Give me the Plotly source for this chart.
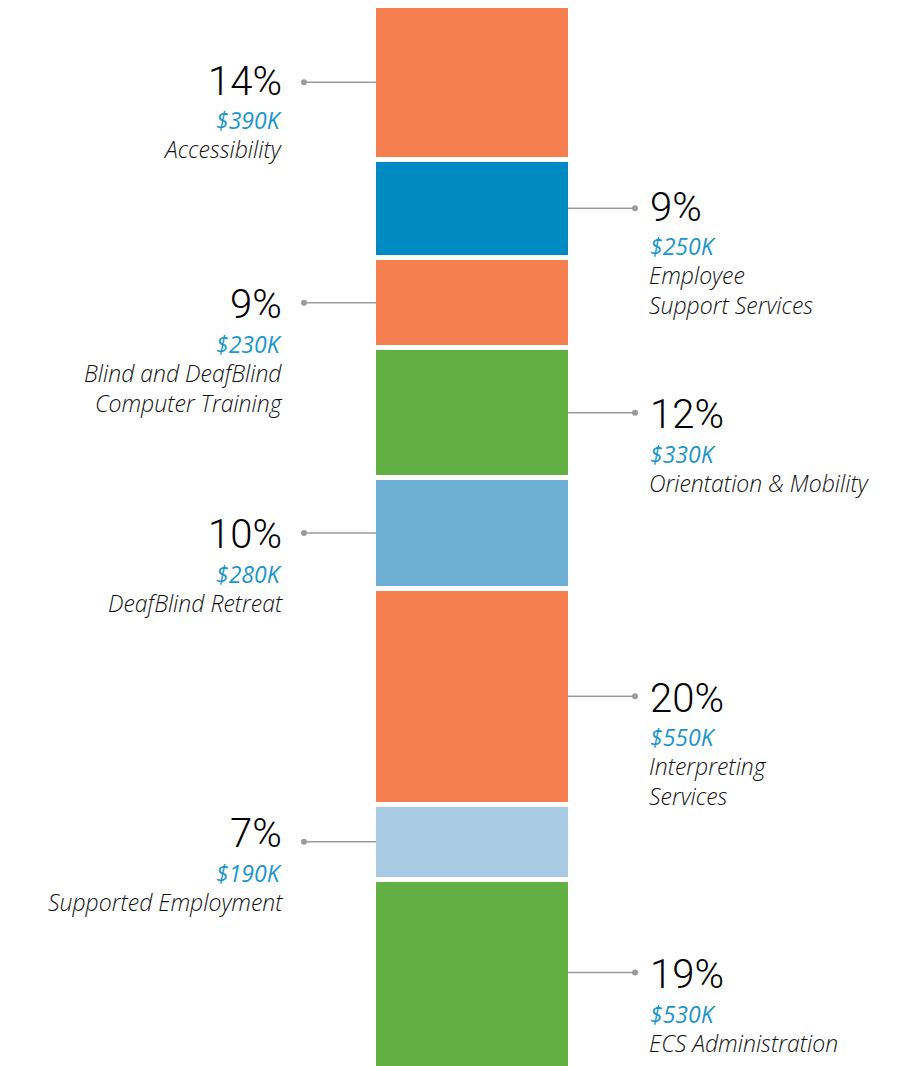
import plotly.graph_objects as go

# ---------------- data ----------------
categories = [
    "Accessibility",
    "Employee<br>Support Services",
    "Blind and DeafBlind<br>Computer Training",
    "Orientation & Mobility",
    "DeafBlind Retreat",
    "Interpreting<br>Services",
    "Supported Employment",
    "ECS Administration",
]
amounts_k = [390, 250, 230, 330, 280, 550, 190, 530]
percents = [14, 9, 9, 12, 10, 20, 7, 19]
sides = ["left", "right", "left", "right", "left", "right", "left", "right"]

# ---------------- styles / layout ----------------
colors = ["#F57F4F", "#008AC2", "#F57F4F", "#62AF43", "#6EAFD6", "#F57F4F", "#A8CBE3", "#62AF43"]
label_nudge_px = [-3, -3, 0, 0, 0, 0, -10, 0]   # design tweak of label block vs connector
PCT_FONT = "Roboto, sans-serif"
TXT_FONT = "Open Sans, Noto Sans, sans-serif"
AMT_COLOR = "#1A96CD"
LINE_COLOR = "#9B9B9B"

W, H = 881, 1058
Y_RANGE = [2694.5, 6.35]          # reversed axis, bar runs past bottom edge
X_RANGE = [-2.3553, 2.1168]

def px(sx):
    """screen x (page pixels) -> paper fraction"""
    return (sx - 8) / W

LEFT_TEXT_X = px(284)
RIGHT_TEXT_X = px(648)
LEFT_DOT_X = px(304)
RIGHT_DOT_X = px(635)
BAR_LEFT_X = px(376)
BAR_RIGHT_X = px(568)

fig = go.Figure()
for name, val, col in zip(categories, amounts_k, colors):
    fig.add_trace(go.Bar(
        x=["Budget"], y=[val], name=name.replace("<br>", " "),
        marker=dict(color=col, line=dict(color="white", width=5)),
        width=1.0, hoverinfo="skip",
    ))

shapes, annotations = [], []
start = 0
vis_max = max(Y_RANGE)
for name, val, pct, side, nud in zip(categories, amounts_k, percents, sides, label_nudge_px):
    end = start + val
    center = (start + min(end, vis_max)) / 2
    start = end
    if side == "left":
        tx, xa, al = LEFT_TEXT_X, "right", "right"
        lx0, lx1 = LEFT_DOT_X, BAR_LEFT_X
        dot = LEFT_DOT_X
    else:
        tx, xa, al = RIGHT_TEXT_X, "left", "left"
        lx0, lx1 = BAR_RIGHT_X, RIGHT_DOT_X
        dot = RIGHT_DOT_X
    shapes.append(dict(type="line", xref="paper", yref="y", x0=lx0, x1=lx1,
                       y0=center, y1=center, line=dict(color=LINE_COLOR, width=1.5)))
    shapes.append(dict(type="circle", xref="paper", yref="y",
                       xsizemode="pixel", ysizemode="pixel",
                       xanchor=dot, yanchor=center, x0=-3, x1=3, y0=-3, y1=3,
                       fillcolor=LINE_COLOR, line=dict(width=0)))
    annotations.append(dict(text=f"{pct}%", x=tx, y=center, xref="paper", yref="y",
                            xanchor=xa, yanchor="middle", align=al, showarrow=False,
                            yshift=-2 - nud,
                            font=dict(family=PCT_FONT, size=40, color="#000000", weight=300)))
    annotations.append(dict(text=f"<i>${val}K</i>", x=tx, y=center, xref="paper", yref="y",
                            xanchor=xa, yanchor="middle", align=al, showarrow=False,
                            yshift=-41 - nud,
                            font=dict(family=TXT_FONT, size=23, color=AMT_COLOR, weight=400)))
    annotations.append(dict(text=f"<i>{name}</i>", x=tx, y=center, xref="paper", yref="y",
                            xanchor=xa, yanchor="top", align=al, showarrow=False,
                            yshift=-53 - nud, borderpad=0,
                            font=dict(family=TXT_FONT, size=23, color="#111111", weight=300)))

fig.update_layout(
    barmode="stack",
    width=W, height=H,
    margin=dict(l=0, r=0, t=0, b=0),
    paper_bgcolor="white", plot_bgcolor="white",
    showlegend=False,
    xaxis=dict(range=X_RANGE, visible=False, fixedrange=True),
    yaxis=dict(range=Y_RANGE, visible=False, fixedrange=True),
    shapes=shapes,
    annotations=annotations,
)

fig.write_html("out.html")
